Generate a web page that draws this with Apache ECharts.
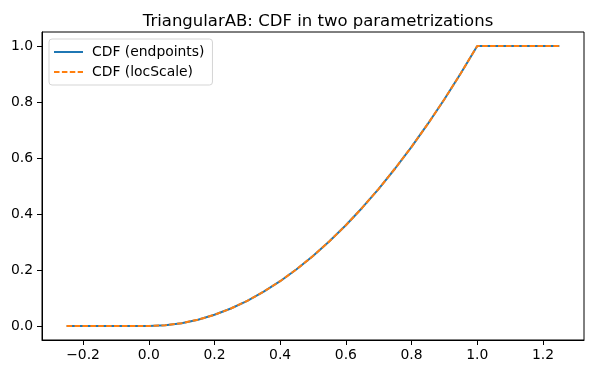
<!DOCTYPE html>
<html>
<head>
<meta charset="utf-8">
<script src="https://cdn.jsdelivr.net/npm/echarts@6/dist/echarts.min.js"></script>
<style>html,body{margin:0;padding:0;background:#fff;}#c{width:594px;height:374px;}</style>
</head>
<body>
<div id="c"></div>
<script>
const xValues = [-0.25,-0.2,-0.15,-0.1,-0.05,0,0.05,0.1,0.15,0.2,0.25,0.3,0.35,0.4,0.45,0.5,0.55,0.6,0.65,0.7,0.75,0.8,0.85,0.9,0.95,1.0,1.05,1.1,1.15,1.2,1.25];
const cdfEndpoints = [0,0,0,0,0,0,0.0025,0.01,0.0225,0.04,0.0625,0.09,0.1225,0.16,0.2025,0.25,0.3025,0.36,0.4225,0.49,0.5625,0.64,0.7225,0.81,0.9025,1,1,1,1,1,1];
const cdfLocScale = [0,0,0,0,0,0,0.0025,0.01,0.0225,0.04,0.0625,0.09,0.1225,0.16,0.2025,0.25,0.3025,0.36,0.4225,0.49,0.5625,0.64,0.7225,0.81,0.9025,1,1,1,1,1,1];
const xTicks = [-0.2,0,0.2,0.4,0.6,0.8,1.0,1.2];
const yTicks = [0,0.2,0.4,0.6,0.8,1.0];
const seriesNames = ['CDF (endpoints)','CDF (locScale)'];
const titleText = 'TriangularAB: CDF in two parametrizations';

const font = 'DejaVu Sans';
const fmt = v => (v < 0 ? '\u2212' : '') + Math.abs(v).toFixed(1);
const chart = echarts.init(document.getElementById('c'), null, {renderer: 'canvas'});
chart.setOption({
  animation: false,
  backgroundColor: '#fff',
  title: {
    text: titleText, left: 313, top: 8, textAlign: 'center',
    textStyle: {fontFamily: font, fontSize: 16.5, fontWeight: 'normal', color: '#000'}
  },
  legend: {
    orient: 'vertical', left: 49, top: 39,
    padding: [6, 8, 6, 4],
    itemWidth: 29, itemHeight: 14, itemGap: 6,
    backgroundColor: 'rgba(255,255,255,0.8)',
    borderColor: '#d5d5d5', borderWidth: 1, borderRadius: 3,
    itemStyle: {opacity: 0},
    textStyle: {fontFamily: font, fontSize: 13.9, color: '#000', padding: [0,0,0,4]},
    data: seriesNames
  },
  grid: {left: 42, right: 10, top: 32, bottom: 34, show: true, borderColor: '#000', borderWidth: 1, containLabel: false},
  xAxis: {
    type: 'value', min: -0.325, max: 1.325,
    splitLine: {show: false},
    axisLine: {show: true, onZero: false, lineStyle: {color: '#000', width: 1}},
    axisTick: {show: true, customValues: xTicks, length: 5, lineStyle: {color: '#000', width: 1}},
    axisLabel: {customValues: xTicks, formatter: fmt, margin: 8, fontFamily: font, fontSize: 13.9, color: '#000'}
  },
  yAxis: {
    type: 'value', min: -0.05, max: 1.05,
    splitLine: {show: false},
    axisLine: {show: true, onZero: false, lineStyle: {color: '#000', width: 1}},
    axisTick: {show: true, customValues: yTicks, length: 5, lineStyle: {color: '#000', width: 1}},
    axisLabel: {customValues: yTicks, formatter: fmt, margin: 9, fontFamily: font, fontSize: 13.9, color: '#000'}
  },
  series: [
    {
      name: seriesNames[0], type: 'line', showSymbol: false, symbol: 'none',
      data: xValues.map((x, i) => [x, cdfEndpoints[i]]),
      lineStyle: {color: '#1f77b4', width: 2}, itemStyle: {color: '#1f77b4'}
    },
    {
      name: seriesNames[1], type: 'line', showSymbol: false, symbol: 'none',
      data: xValues.map((x, i) => [x, cdfLocScale[i]]),
      lineStyle: {color: '#ff7f0e', width: 2, type: [5.5, 2.4]}, itemStyle: {color: '#ff7f0e'}
    }
  ]
});
</script>
</body>
</html>
